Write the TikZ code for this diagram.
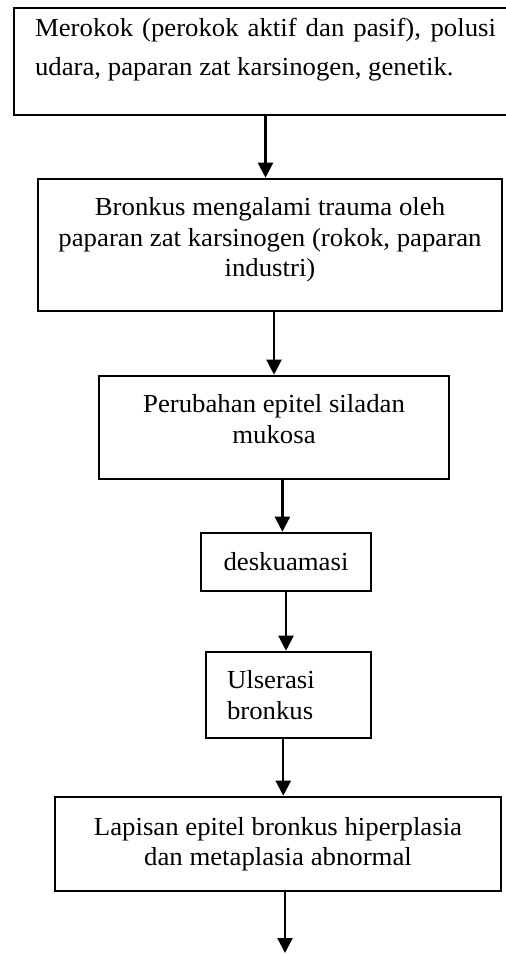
\documentclass[tikz,border=0pt]{standalone}
\usepackage{fontspec}
\setmainfont{Liberation Serif}[FakeStretch=1.03]
\usetikzlibrary{arrows.meta,calc,positioning}
\hyphenpenalty=10000
\exhyphenpenalty=10000

\begin{document}
\begin{tikzpicture}[x=1pt, y=-1pt]
    \useasboundingbox (0,0) rectangle (506,954);
    \tikzset{BoxStyle/.style = {draw, rectangle,
        line width = 2.6pt,
        inner sep  = 0pt,
        font       = \fontsize{26}{30.5}\selectfont},
      EdgeStyle/.style = {-{Triangle[length=15pt,width=15pt]}, line width=2.3pt}}
    \node[BoxStyle, minimum width=503, minimum height=107, text width=461, align=justify,
      font=\fontsize{26}{39}\selectfont, text height=28pt, text depth=79pt] (A) at (265.5,61.5)
      {Merokok (perokok aktif dan pasif), polusi udara, paparan zat karsinogen, genetik.};
    \node[BoxStyle, minimum width=464, minimum height=132, text width=440, align=flush center,
      text height=18pt, text depth=77pt] (B) at (270,245)
      {Bronkus mengalami trauma oleh\\paparan zat karsinogen (rokok, paparan\\industri)};
    \node[BoxStyle, minimum width=350, minimum height=103, text width=330, align=flush center,
      text height=18pt, text depth=48pt] (C) at (274,427.5)
      {Perubahan epitel siladan\\mukosa};
    \node[BoxStyle, minimum width=170, minimum height=58] (D) at (286,562) {deskuamasi};
    \node[BoxStyle, minimum width=165, minimum height=86, text width=123, align=left] (E) at (288.5,695)
      {Ulserasi\\bronkus};
    \node[BoxStyle, minimum width=446, minimum height=94, align=center] (F) at (278,844)
      {Lapisan epitel bronkus hiperplasia\\dan metaplasia abnormal};
    \coordinate (CD) at ($(C.south)!0.7!(D.north)$);
    \coordinate (EF) at ($(E.south)!0.5!(F.north)$);
    \coordinate (G) at (285,953);
    \draw[EdgeStyle] (A.south) -- (A.south |- B.north);
    \draw[EdgeStyle] (B.south -| C.north) -- (C.north);
    \draw[EdgeStyle] (C.south -| CD) -- (D.north -| CD);
    \draw[EdgeStyle] (D.south) -- (D.south |- E.north);
    \draw[EdgeStyle] (E.south -| EF) -- (F.north -| EF);
    \draw[EdgeStyle] (F.south -| G) -- (G);
  \end{tikzpicture}
\end{document}
